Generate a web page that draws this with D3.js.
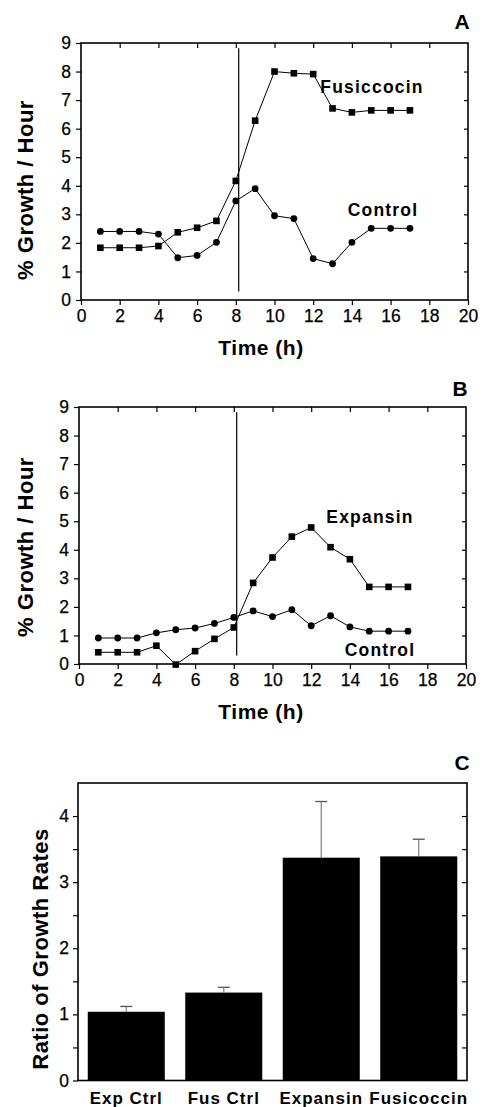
<!DOCTYPE html>
<html>
<head>
<meta charset="utf-8">
<script src="https://cdn.jsdelivr.net/npm/d3@7"></script>
<style>
  body { margin: 0; background: #fff; }
  svg { display: block; font-family: "Liberation Sans", Arial, Helvetica, sans-serif; }
</style>
</head>
<body>
<svg id="chart" width="484" height="1107"></svg>
<script>
// hours 1..17
const hours = d3.range(1, 18);

// panel A
const fusicoccin = [1.83, 1.83, 1.83, 1.89, 2.37, 2.53, 2.77, 4.17, 6.28, 8.0, 7.94, 7.91, 6.71, 6.57, 6.64, 6.64, 6.64];
const controlA = [2.40, 2.40, 2.40, 2.31, 1.48, 1.56, 2.02, 3.47, 3.90, 2.95, 2.85, 1.45, 1.27, 2.02, 2.51, 2.51, 2.51];

// panel B
const expansin = [0.41, 0.41, 0.41, 0.64, -0.02, 0.45, 0.88, 1.28, 2.84, 3.73, 4.46, 4.78, 4.09, 3.67, 2.70, 2.70, 2.70];
const controlB = [0.91, 0.91, 0.91, 1.09, 1.20, 1.26, 1.42, 1.63, 1.86, 1.66, 1.90, 1.34, 1.69, 1.30, 1.15, 1.15, 1.15];

// panel C
const groups = ["Exp Ctrl", "Fus Ctrl", "Expansin", "Fusicoccin"];
const ratios = [1.04, 1.33, 3.37, 3.39];
const ratioErr = [0.08, 0.08, 0.85, 0.26];

const xTicks = d3.range(0, 21, 2);
const yTicks = d3.range(0, 10);
const treatTime = 8.15;

const svg = d3.select("#chart");

function styleTicks(g) {
  g.selectAll(".tick line").attr("stroke", "#000").attr("stroke-width", 1.2);
  g.selectAll(".tick text").attr("font-size", 17.5).attr("fill", "#000").attr("font-family", null)
    .attr("stroke", "#000").attr("stroke-width", 0.25);
}

function linePanel(box, letter, series, labels) {
  let x = d3.scaleLinear().domain([0, 20]).range([box.left, box.right]);
  let y = d3.scaleLinear().domain([0, 9]).range([box.bottom, box.top]);
  let g = svg.append("g");

  // ticks
  g.append("g").attr("transform", "translate(0," + box.bottom + ")")
    .call(d3.axisBottom(x).tickValues(xTicks).tickSize(5).tickPadding(5).tickFormat(d3.format("d")))
    .call(a => a.select(".domain").remove());
  g.append("g").attr("transform", "translate(0," + box.top + ")")
    .call(d3.axisBottom(x).tickValues(xTicks.slice(1, -1)).tickSize(5).tickFormat(""))
    .call(a => a.select(".domain").remove());
  g.append("g").attr("transform", "translate(" + box.left + ",0)")
    .call(d3.axisLeft(y).tickValues(yTicks).tickSize(5).tickPadding(5).tickFormat(d3.format("d")))
    .call(a => a.select(".domain").remove());
  g.append("g").attr("transform", "translate(" + box.right + ",0)")
    .call(d3.axisLeft(y).tickValues(yTicks.slice(1, -1)).tickSize(4).tickFormat(""))
    .call(a => a.select(".domain").remove());
  styleTicks(g);

  g.append("rect").attr("x", box.left).attr("y", box.top)
    .attr("width", box.right - box.left).attr("height", box.bottom - box.top)
    .attr("fill", "none").attr("stroke", "#000").attr("stroke-width", 1.6);

  // treatment line
  g.append("line").attr("x1", x(treatTime)).attr("x2", x(treatTime))
    .attr("y1", y(8.82)).attr("y2", y(0.3)).attr("stroke", "#000").attr("stroke-width", 1.2);

  let line = d3.line().x((d, i) => x(hours[i])).y(d => y(d));
  series.forEach(s => {
    g.append("path").attr("d", line(s.values)).attr("fill", "none").attr("stroke", "#000").attr("stroke-width", 1);
    if (s.shape == "square") {
      g.selectAll(null).data(s.values).enter().append("rect")
        .attr("x", (d, i) => x(hours[i]) - 3.3).attr("y", d => y(d) - 3.3)
        .attr("width", 6.6).attr("height", 6.6).attr("fill", "#000");
    } else {
      g.selectAll(null).data(s.values).enter().append("circle")
        .attr("cx", (d, i) => x(hours[i])).attr("cy", d => y(d)).attr("r", 3.4).attr("fill", "#000");
    }
  });

  labels.forEach(l => {
    g.append("text").attr("x", l.x).attr("y", l.y).attr("text-anchor", "middle")
      .attr("font-size", 17.5).attr("font-weight", "bold").attr("letter-spacing", 1.2).text(l.text);
  });

  g.append("text").attr("x", box.right - 6).attr("y", box.letterY).attr("text-anchor", "middle")
    .attr("font-size", 21).attr("font-weight", "bold").text(letter);
  g.append("text").attr("x", 261).attr("y", box.bottom + 55).attr("text-anchor", "middle")
    .attr("font-size", 21).attr("font-weight", "bold").attr("letter-spacing", 0.5).text("Time (h)");
  g.append("text").attr("transform", "translate(33," + box.titleY + ") rotate(-90)").attr("text-anchor", "middle")
    .attr("font-size", 22).attr("font-weight", "bold").attr("letter-spacing", 0.5).text("% Growth / Hour");
}

linePanel({left: 81, right: 468, top: 43, bottom: 300, letterY: 29, titleY: 190}, "A",
  [{values: fusicoccin, shape: "square"}, {values: controlA, shape: "circle"}],
  [{text: "Fusiccocin", x: 372, y: 93}, {text: "Control", x: 383, y: 216}]);

linePanel({left: 79, right: 466, top: 407, bottom: 664, letterY: 396, titleY: 547}, "B",
  [{values: expansin, shape: "square"}, {values: controlB, shape: "circle"}],
  [{text: "Expansin", x: 370, y: 523}, {text: "Control", x: 380, y: 656}]);

// panel C
{
  let box = {left: 78, right: 467, top: 783, bottom: 1080.5};
  let x = d3.scaleBand().domain(groups).range([box.left, box.right]).paddingInner(0.21).paddingOuter(0.1);
  let y = d3.scaleLinear().domain([0, 4.5]).range([box.bottom, box.top]);
  let g = svg.append("g");

  g.append("g").attr("transform", "translate(" + box.left + ",0)")
    .call(d3.axisLeft(y).tickValues(d3.range(0, 4.5, 0.5)).tickSize(5).tickPadding(4)
      .tickFormat(d => Number.isInteger(d) ? d : ""))
    .call(a => a.select(".domain").remove());
  g.append("g").attr("transform", "translate(" + box.right + ",0)")
    .call(d3.axisLeft(y).tickValues(d3.range(0.5, 4.5, 0.5)).tickSize(5).tickFormat(""))
    .call(a => a.select(".domain").remove());
  styleTicks(g);

  // error bars
  g.selectAll(null).data(groups).enter().append("line")
    .attr("x1", d => x(d) + x.bandwidth() / 2).attr("x2", d => x(d) + x.bandwidth() / 2)
    .attr("y1", (d, i) => y(ratios[i])).attr("y2", (d, i) => y(ratios[i] + ratioErr[i]))
    .attr("stroke", "#888").attr("stroke-width", 1.3);
  g.selectAll(null).data(groups).enter().append("line")
    .attr("x1", d => x(d) + x.bandwidth() / 2 - 6).attr("x2", d => x(d) + x.bandwidth() / 2 + 6)
    .attr("y1", (d, i) => y(ratios[i] + ratioErr[i])).attr("y2", (d, i) => y(ratios[i] + ratioErr[i]))
    .attr("stroke", "#555").attr("stroke-width", 1.3);

  g.selectAll(null).data(groups).enter().append("rect")
    .attr("x", d => x(d)).attr("width", x.bandwidth())
    .attr("y", (d, i) => y(ratios[i])).attr("height", (d, i) => y(0) - y(ratios[i]))
    .attr("fill", "#000");

  g.append("rect").attr("x", box.left).attr("y", box.top)
    .attr("width", box.right - box.left).attr("height", box.bottom - box.top)
    .attr("fill", "none").attr("stroke", "#000").attr("stroke-width", 1.6);

  g.selectAll(null).data(groups).enter().append("text")
    .attr("x", d => x(d) + x.bandwidth() / 2).attr("y", 1104).attr("text-anchor", "middle")
    .attr("font-size", 17).attr("font-weight", "bold").attr("letter-spacing", 1).text(d => d);

  g.append("text").attr("x", 462).attr("y", 770).attr("text-anchor", "middle")
    .attr("font-size", 21).attr("font-weight", "bold").text("C");
  g.append("text").attr("transform", "translate(48,949) rotate(-90)").attr("text-anchor", "middle")
    .attr("font-size", 22).attr("font-weight", "bold").attr("letter-spacing", 0.5).text("Ratio of Growth Rates");
}
</script>
</body>
</html>
